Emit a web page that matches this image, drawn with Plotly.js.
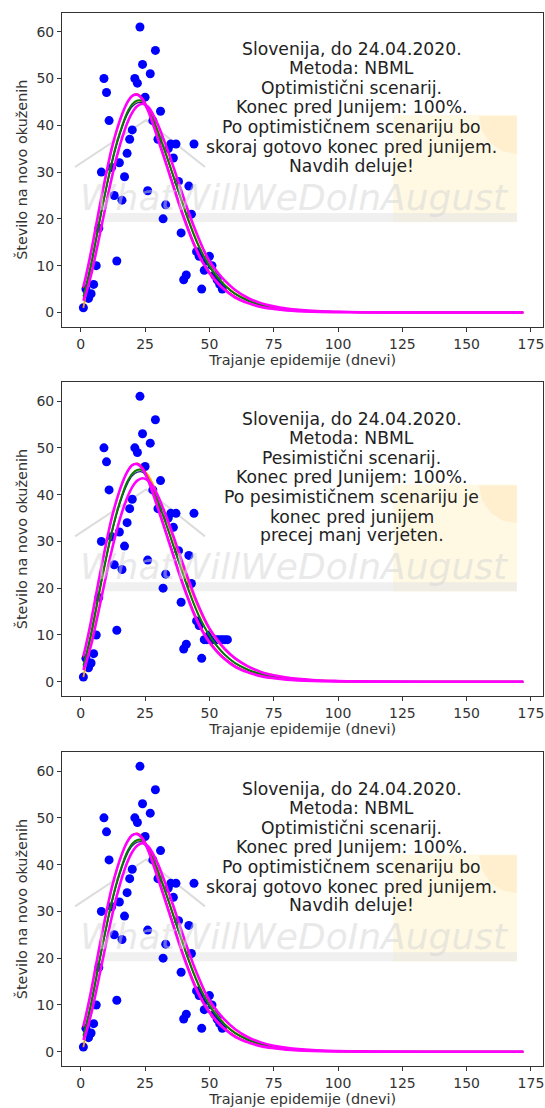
<!DOCTYPE html>
<html>
<head>
<meta charset="utf-8">
<script src="https://cdn.plot.ly/plotly-3.0.1.min.js"></script>
<style>html,body{margin:0;padding:0;background:#fff;}#chart{width:545px;height:1108px;}</style>
</head>
<body>
<div id="chart"></div>
<script>
// ---------- data ----------
const days1 = [1,2,3,4,5,6,7,8,9,10,11,12,13,14,15,16,17,18,19,20,21,22,23,24,25,26,27,28,29,30,31,32,33,34,35,36,37,38,39,40,41,42,43,44,45,46,47,48,49,50,51,52,53,54,55];
const cases1 = [1,5,3,4,6,10,18,30,50,47,41,31,25,11,32,24,29,34,37,39,50,49,61,53,46,26,51,41,56,37,43,20,23,35,36,33,36,28,17,7,8,27,21,36,13,12,5,9,11,12,10,8,7,6,5];
const days2 = [1,2,3,4,5,6,7,8,9,10,11,12,13,14,15,16,17,18,19,20,21,22,23,24,25,26,27,28,29,30,31,32,33,34,35,36,37,38,39,40,41,42,43,44,45,46,47,48,49,50,51,52,53,54,55,56,57];
const cases2 = [1,5,3,4,6,10,18,30,50,47,41,31,25,11,32,24,29,34,37,39,50,49,61,53,46,26,51,41,56,37,43,20,23,35,36,33,36,28,17,7,8,27,21,36,13,12,5,9,9,10,9,9,9,9,9,9,9];

// model curves (sampled days)
const curveDays = [1,2,4,6,8,10,12,14,16,18,20,22,24,26,28,30,32,34,36,38,40,42,44,46,48,50,53,56,60,65,70,75,80,90,100,110,120,140,160,172];
const greenFit   = [3.4,5.6,10.4,16,21.7,27,32,36.3,39.8,42.7,44.5,45.3,45.2,43.6,41.4,38.6,35.6,32.4,29.1,25.8,22.6,19.5,16.6,14,11.8,9.9,7.6,5.8,4,2.6,1.65,1.05,0.67,0.27,0.11,0.04,0.016,0.003,0,0];
const navyFit    = [3,5.2,10,15.6,21.3,26.6,31.6,35.9,39.4,42.2,44,44.8,44.8,43.3,41.2,38.4,35.4,32.3,29,25.7,22.5,19.4,16.5,13.9,11.7,9.8,7.5,5.7,3.9,2.5,1.6,1.02,0.65,0.26,0.1,0.04,0.015,0.003,0,0];
const redFit     = [5.2,7.5,12.8,18.6,24.4,29.8,34.8,38.9,42.2,44.8,46.3,46.7,45.8,43.7,40.8,37.5,34.1,30.7,27.3,23.9,20.7,17.7,14.9,12.5,10.4,8.7,6.6,5,3.4,2.1,1.3,0.8,0.5,0.18,0.07,0.03,0.01,0,0,0];
const magentaEarly = [5.5,7.8,13,18.8,24.6,30,35,39,42.3,44.8,46.3,46.5,45.5,43.3,40.3,37,33.7,30.3,26.9,23.5,20.3,17.3,14.5,12.1,10.1,8.4,6.4,4.8,3.2,2,1.2,0.75,0.45,0.17,0.07,0.03,0.01,0,0,0];
const magentaLate1 = [2.5,4,8,13,18.3,23.6,28.7,33.3,37.2,40.4,42.7,44.1,44.6,44,42.4,40.1,37.3,34.3,31.1,27.8,24.5,21.3,18.3,15.6,13.1,11,8.7,6.8,4.8,3.1,2,1.3,0.85,0.35,0.14,0.055,0.02,0,0,0];
const orangeFit1 = [1,4,9.8,15.7,21.5,26.9,31.9,36.2,39.7,42.6,44.4,45.2,45.1,43.7,41.5,38.8,35.8,32.6,29.3,26,22.8,19.7,16.8,14.2,12,10.1,7.8,5.9,4.1,2.7,1.7,1.08,0.69,0.28,0.11,0.045,0.017,0.003,0,0];
const magentaLate2 = [2.5,4,7.8,12.7,17.9,23.1,28,32.4,36.2,39.3,41.6,43,43.5,43.1,41.8,39.7,37.1,34.2,31.1,27.9,24.7,21.6,18.6,15.9,13.5,11.4,9,7,5,3.3,2.1,1.4,0.9,0.38,0.16,0.065,0.025,0.005,0,0];
const orangeFit2 = [1,3.8,9.3,15.2,21.1,26.6,31.7,36.1,39.8,42.6,44.4,45.3,45.3,44.3,42.3,39.7,36.8,33.7,30.5,27.2,24,20.9,18,15.4,13.1,11.1,8.7,6.8,4.9,3.2,2.1,1.4,0.9,0.38,0.16,0.065,0.025,0,0,0];

const xTicks = [0,25,50,75,100,125,150,175];
const yTicks = [0,10,20,30,40,50,60];

const linesOpt = ["Slovenija, do 24.04.2020.", "Metoda: NBML", "Optimistični scenarij.", "Konec pred Junijem: 100%.",
                  "Po optimističnem scenariju bo", "skoraj gotovo konec pred junijem.", "Navdih deluje!"];
const linesPes = ["Slovenija, do 24.04.2020.", "Metoda: NBML", "Pesimistični scenarij.", "Konec pred Junijem: 100%.",
                  "Po pesimističnem scenariju je", "konec pred junijem", "precej manj verjeten."];
const xTitle = "Trajanje epidemije (dnevi)";
const yTitle = "Število na novo okuženih";

// ---------- panels ----------
const panels = [
  {days: days1, cases: cases1, late: magentaLate1, orange: orangeFit1, lines: linesOpt},
  {days: days2, cases: cases2, late: magentaLate2, orange: orangeFit2, lines: linesPes},
  {days: days1, cases: cases1, late: magentaLate1, orange: orangeFit1, lines: linesOpt}
];
const yDomains = [[0.7051,0.98854],[0.37184,0.65514],[0.03791,0.32121]];
const xDomain = [0.1138,0.9969];
const lineYs = [0.8834,0.8229,0.7592,0.6987,0.6350,0.5713,0.5118];
const FONT = "DejaVu Sans";

const traces = [];
const annotations = [];
const shapes = [];
const layout = {
  width: 545, height: 1108,
  margin: {l:0, r:0, t:0, b:0},
  paper_bgcolor: "#fff", plot_bgcolor: "#fff",
  showlegend: false,
  font: {family: FONT, color: "#333"}
};

panels.forEach((p, i) => {
  const n = i === 0 ? "" : String(i + 1);
  const xa = "x" + n, ya = "y" + n;
  traces.push({x: p.days, y: p.cases, xaxis: xa, yaxis: ya, type: "scatter", mode: "markers",
               marker: {color: "#0000ff", size: 9}, hoverinfo: "skip"});
  const line = (y, color, width) => traces.push({x: curveDays, y: y, xaxis: xa, yaxis: ya, type: "scatter",
               mode: "lines", line: {color: color, width: width, shape: "spline", smoothing: 1}, hoverinfo: "skip"});
  line(p.orange, "#ffa500", 1.8);
  line(navyFit, "#1f2a80", 1.4);
  line(greenFit, "#008000", 1.9);
  line(redFit, "#ff1a1a", 1.5);
  line(p.late, "#ff00ff", 2.6);
  line(magentaEarly, "#ff00ff", 2.6);

  const axCommon = {
    showline: true, mirror: true, linecolor: "#333", linewidth: 1,
    ticks: "outside", ticklen: 4, tickcolor: "#333", showgrid: false, zeroline: false,
    tickfont: {family: FONT, size: 14, color: "#333"}, automargin: false
  };
  layout["xaxis" + n] = Object.assign({}, axCommon, {
    domain: xDomain, range: [-7.3, 179.8], tickmode: "array", tickvals: xTicks, anchor: ya,
    title: {text: xTitle, font: {family: FONT, size: 14.4, color: "#333"}, standoff: 3}
  });
  layout["yaxis" + n] = Object.assign({}, axCommon, {
    domain: yDomains[i], range: [-3.05, 64.05], tickmode: "array", tickvals: yTicks, anchor: xa,
    title: {text: yTitle, font: {family: FONT, size: 14.4, color: "#333"}, standoff: 5}
  });

  const xd = xa + " domain", yd = ya + " domain";
  // watermark decorations
  shapes.push({type: "rect", xref: xd, yref: yd, x0: 0.688, x1: 0.945, y0: 0.333, y1: 0.674,
               fillcolor: "rgba(255,235,170,0.32)", line: {width: 0}, layer: "below"});
  shapes.push({type: "path", xref: xd, yref: yd,
               path: "M 0.8664 0.671 L 0.8724 0.6248 L 0.8895 0.5854 L 0.9152 0.5592 L 0.9454 0.55 L 0.9454 0.671 Z",
               fillcolor: "rgba(255,210,140,0.25)", line: {width: 0}, layer: "below"});
  shapes.push({type: "rect", xref: xd, yref: yd, x0: 0.0873, x1: 0.9454, y0: 0.3334, y1: 0.362,
               fillcolor: "rgba(228,228,228,0.55)", line: {width: 0}, layer: "below"});
  shapes.push({type: "path", xref: xd, yref: yd,
               path: "M 0.027 0.5086 L 0.1746 0.658 L 0.2971 0.5086",
               line: {color: "rgba(205,205,205,0.7)", width: 2}, layer: "below"});
  annotations.push({xref: xd, yref: yd, x: 0.484, y: 0.413, xanchor: "center", yanchor: "middle",
                    text: "WhatWillWeDoInAugust", showarrow: false,
                    font: {family: FONT, size: 36, color: "rgba(212,212,212,0.5)", style: "italic"}});
  p.lines.forEach((t, k) => {
    annotations.push({xref: xd, yref: yd, x: 0.602, y: lineYs[k], xanchor: "center", yanchor: "middle",
                      text: t, showarrow: false, font: {family: FONT, size: 17.2, color: "#222"}});
  });
});

layout.annotations = annotations;
layout.shapes = shapes;

Plotly.newPlot("chart", traces, layout, {staticPlot: true, displayModeBar: false});
</script>
</body>
</html>
